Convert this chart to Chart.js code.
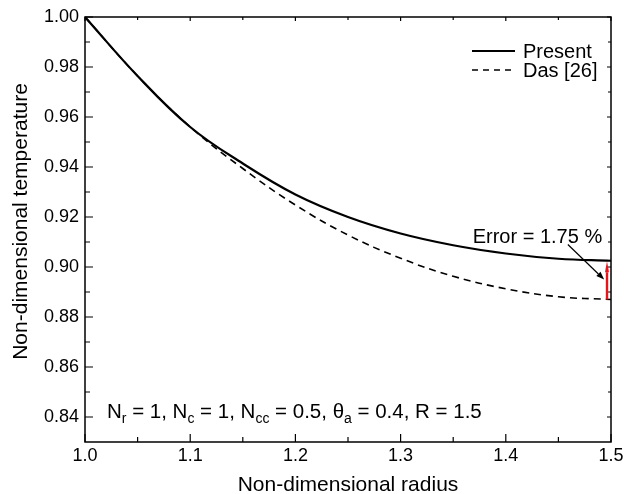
<!DOCTYPE html>
<html>
<head>
<meta charset="utf-8">
<script src="https://cdn.jsdelivr.net/npm/chart.js@4.4.0/dist/chart.umd.min.js"></script>
<style>
  html, body { margin: 0; padding: 0; background: #fff; }
</style>
</head>
<body>
<canvas id="chart" width="628" height="494"></canvas>
<script>
// Values
const radius = [1.00, 1.05, 1.10, 1.15, 1.20, 1.25, 1.30, 1.35, 1.40, 1.45, 1.50];
const presentTemp = [1.0000, 0.9764, 0.9560, 0.9414, 0.9290, 0.9200, 0.9134, 0.9087, 0.9054, 0.9033, 0.9025];
const dasTemp = [1.0000, 0.9764, 0.9560, 0.9394, 0.9248, 0.9128, 0.9035, 0.8963, 0.8913, 0.8881, 0.8870];
const xTicks = [1.0, 1.1, 1.2, 1.3, 1.4, 1.5];
const xMinor = [1.05, 1.15, 1.25, 1.35, 1.45];
const yTicks = [0.84, 0.86, 0.88, 0.90, 0.92, 0.94, 0.96, 0.98, 1.00];
const yMinor = [0.85, 0.87, 0.89, 0.91, 0.93, 0.95, 0.97, 0.99];
const errorLabel = "Error = 1.75 %";

const FAMILY = '"Liberation Sans", Arial, Helvetica, sans-serif';

function arrow(ctx, x1, y1, x2, y2, head, half) {
  const ang = Math.atan2(y2 - y1, x2 - x1);
  const bx = x2 - head * Math.cos(ang);
  const by = y2 - head * Math.sin(ang);
  ctx.beginPath();
  ctx.moveTo(x1, y1);
  ctx.lineTo(bx, by);
  ctx.stroke();
  ctx.beginPath();
  ctx.moveTo(x2, y2);
  ctx.lineTo(bx + half * Math.sin(ang), by - half * Math.cos(ang));
  ctx.lineTo(bx - half * Math.sin(ang), by + half * Math.cos(ang));
  ctx.closePath();
  ctx.fill();
}

// frame, inward ticks, titles, legend and notes
const decor = {
  id: "decor",
  afterDraw(chart) {
    const { ctx, chartArea: a, scales: { x, y } } = chart;
    ctx.save();
    ctx.strokeStyle = "#000";
    ctx.fillStyle = "#000";

    ctx.lineWidth = 1.5;
    ctx.strokeRect(a.left, a.top, a.right - a.left, a.bottom - a.top);

    ctx.lineWidth = 1.2;
    ctx.beginPath();
    xTicks.forEach((v) => {
      const px = x.getPixelForValue(v);
      ctx.moveTo(px, a.bottom); ctx.lineTo(px, a.bottom - 8);
      ctx.moveTo(px, a.top); ctx.lineTo(px, a.top + 4);
    });
    xMinor.forEach((v) => {
      const px = x.getPixelForValue(v);
      ctx.moveTo(px, a.bottom); ctx.lineTo(px, a.bottom - 5);
      ctx.moveTo(px, a.top); ctx.lineTo(px, a.top + 3);
    });
    yTicks.forEach((v) => {
      const py = y.getPixelForValue(v);
      ctx.moveTo(a.left, py); ctx.lineTo(a.left + 8, py);
      ctx.moveTo(a.right, py); ctx.lineTo(a.right - 4, py);
    });
    yMinor.forEach((v) => {
      const py = y.getPixelForValue(v);
      ctx.moveTo(a.left, py); ctx.lineTo(a.left + 5, py);
      ctx.moveTo(a.right, py); ctx.lineTo(a.right - 3, py);
    });
    ctx.stroke();

    // axis titles
    ctx.font = "21px " + FAMILY;
    ctx.textAlign = "center";
    ctx.textBaseline = "alphabetic";
    ctx.fillText("Non-dimensional radius", (a.left + a.right) / 2, 491);
    ctx.save();
    ctx.translate(27, (a.top + a.bottom) / 2 - 8);
    ctx.rotate(-Math.PI / 2);
    ctx.fillText("Non-dimensional temperature", 0, 0);
    ctx.restore();

    // legend
    ctx.textAlign = "left";
    ctx.font = "20px " + FAMILY;
    ctx.lineWidth = 2;
    ctx.beginPath();
    ctx.moveTo(472, 51); ctx.lineTo(515, 51);
    ctx.stroke();
    ctx.fillText("Present", 523, 58);
    ctx.lineWidth = 1.6;
    ctx.setLineDash([6, 5]);
    ctx.beginPath();
    ctx.moveTo(472, 70); ctx.lineTo(515, 70);
    ctx.stroke();
    ctx.setLineDash([]);
    ctx.fillText("Das [26]", 523, 77);

    // parameters note with subscripts
    const parts = [["N"], ["r", 1], [" = 1, N"], ["c", 1], [" = 1, N"], ["cc", 1],
      [" = 0.5, \u03B8"], ["a", 1], [" = 0.4, R = 1.5"]];
    let tx = a.left + 22;
    const ty = a.bottom - 24;
    parts.forEach(([t, sub]) => {
      ctx.font = (sub ? "14px " : "20.5px ") + FAMILY;
      ctx.fillText(t, tx, ty + (sub ? 5 : 0));
      tx += ctx.measureText(t).width;
    });

    // error annotation
    ctx.font = "20px " + FAMILY;
    ctx.fillText(errorLabel, x.getPixelForValue(1.3685), y.getPixelForValue(0.9098));
    ctx.lineWidth = 1.2;
    arrow(ctx, x.getPixelForValue(1.459), y.getPixelForValue(0.909),
      x.getPixelForValue(1.4935), y.getPixelForValue(0.895), 8, 3);
    ctx.strokeStyle = "#e8141c";
    ctx.fillStyle = "#e8141c";
    ctx.lineWidth = 2.4;
    const ex = x.getPixelForValue(1.4962);
    arrow(ctx, ex, y.getPixelForValue(dasTemp[dasTemp.length - 1]),
      ex, y.getPixelForValue(presentTemp[presentTemp.length - 1]) + 0.5, 11, 2);
    ctx.restore();
  },
};

const ctx = document.getElementById("chart").getContext("2d");
const tickFont = { family: FAMILY, size: 18 };

new Chart(ctx, {
  type: "line",
  data: {
    datasets: [
      {
        label: "Present",
        data: radius.map((r, i) => ({ x: r, y: presentTemp[i] })),
        borderColor: "#000",
        borderWidth: 2.2,
        pointRadius: 0,
        tension: 0.4,
        fill: false,
      },
      {
        label: "Das [26]",
        data: radius.map((r, i) => ({ x: r, y: dasTemp[i] })),
        borderColor: "#000",
        borderWidth: 1.6,
        borderDash: [7, 5],
        pointRadius: 0,
        tension: 0.4,
        fill: false,
      },
    ],
  },
  options: {
    responsive: false,
    animation: false,
    layout: { padding: { top: 17, right: 17, left: 0, bottom: 0 } },
    plugins: {
      legend: { display: false },
      tooltip: { enabled: false },
    },
    scales: {
      x: {
        type: "linear",
        min: 1.0,
        max: 1.5,
        afterBuildTicks: (s) => { s.ticks = xTicks.map((v) => ({ value: v })); },
        afterFit: (s) => { s.height = 52; },
        grid: { display: false, drawTicks: false },
        border: { display: false },
        ticks: {
          color: "#000",
          font: tickFont,
          padding: 3,
          maxRotation: 0,
          autoSkip: false,
          callback: (v) => Number(v).toFixed(1),
        },
      },
      y: {
        type: "linear",
        min: 0.83,
        max: 1.0,
        afterBuildTicks: (s) => { s.ticks = yTicks.map((v) => ({ value: v })); },
        afterFit: (s) => { s.width = 85; },
        grid: { display: false, drawTicks: false },
        border: { display: false },
        ticks: {
          color: "#000",
          font: tickFont,
          padding: 6,
          autoSkip: false,
          callback: (v) => Number(v).toFixed(2),
        },
      },
    },
  },
  plugins: [decor],
});
</script>
</body>
</html>
